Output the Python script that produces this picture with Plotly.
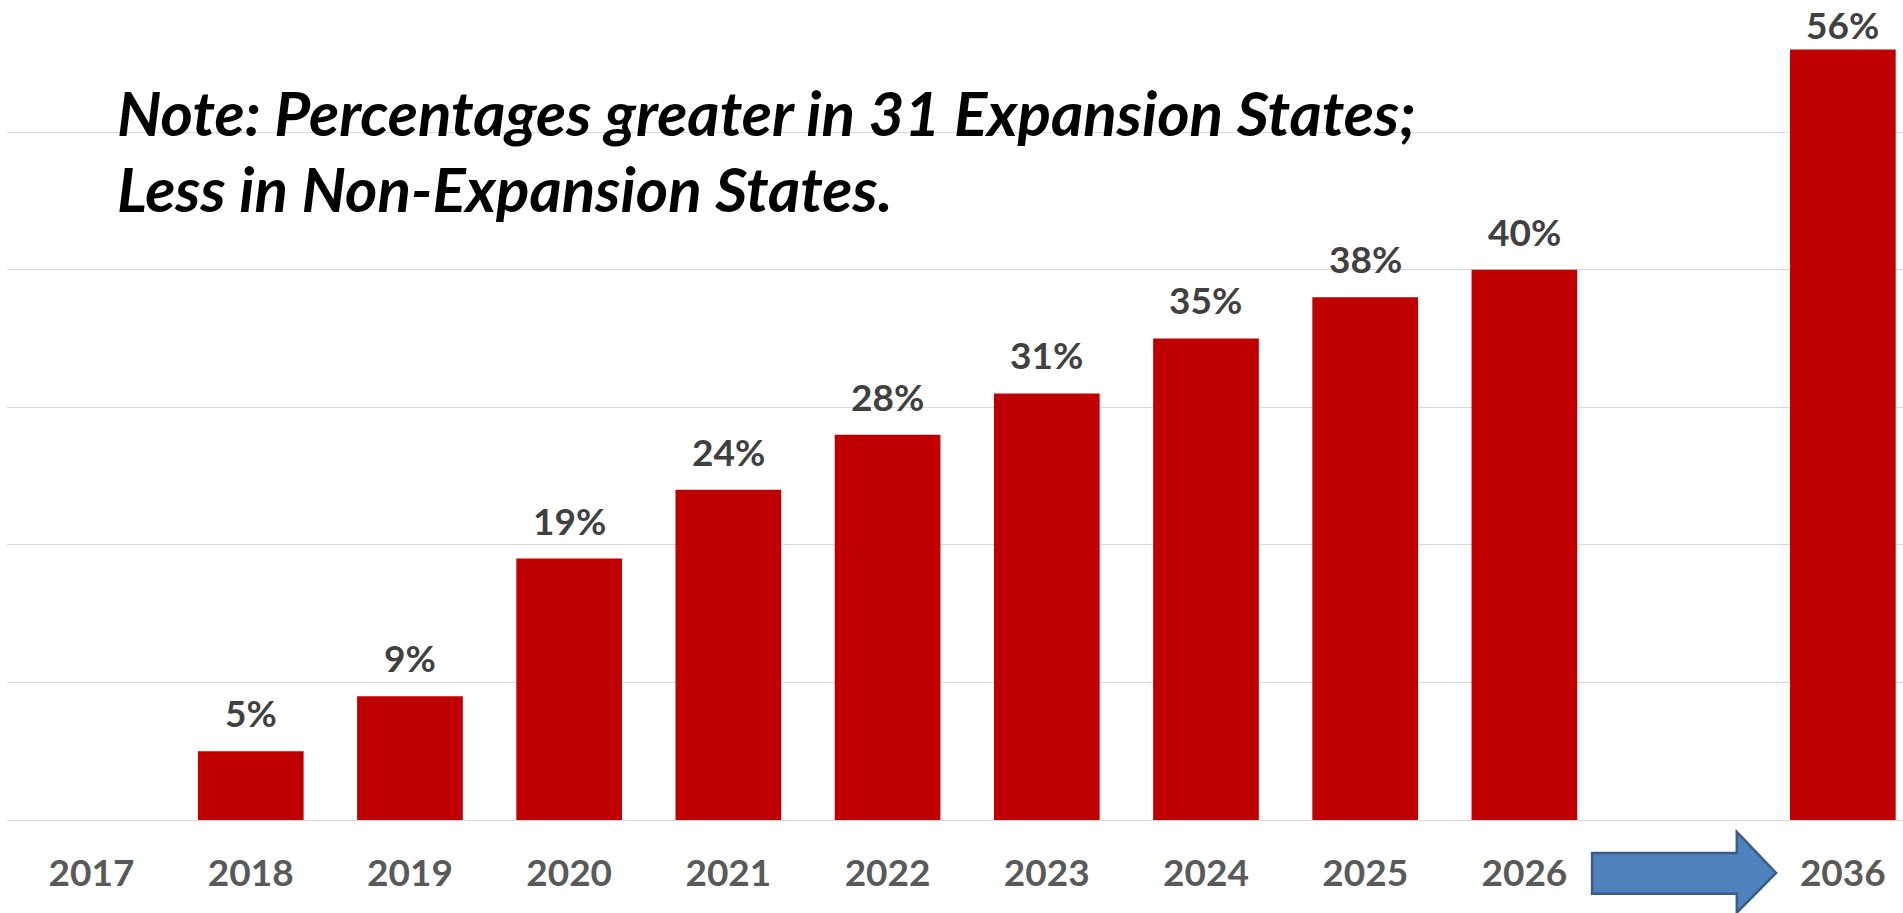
import plotly.graph_objects as go

# Share of patients, by year (the blank slot holds the arrow toward 2036)
years = ["2017", "2018", "2019", "2020", "2021", "2022", "2023",
         "2024", "2025", "2026", " ", "2036"]
shares = [None, 5, 9, 19, 24, 28, 31, 35, 38, 40, None, 56]
share_labels = ["", "5%", "9%", "19%", "24%", "28%", "31%",
                "35%", "38%", "40%", "", "56%"]

note_lines = ["Note: Percentages greater in 31 Expansion States;",
              "Less in Non-Expansion States."]

BAR_RED = "#C00000"
LABEL_GREY = "#404040"
TICK_GREY = "#595959"
GRID_GREY = "#D9D9D9"
FONT = "Lato"
Y_MAX = 59.6
PLOT_H = 819.7  # plot-area height in px

fig = go.Figure()
fig.add_trace(go.Bar(
    x=years, y=shares,
    marker=dict(color=BAR_RED, line=dict(width=0)),
    hoverinfo="skip",
))

annotations = []
# Value labels above each column (positioned by category index);
# a label that would run past the top edge is tucked down closer to its bar.
for idx, (val, lab) in enumerate(zip(shares, share_labels)):
    if val is None or not lab:
        continue
    room = (Y_MAX - val) / Y_MAX * PLOT_H - 49
    annotations.append(dict(
        x=idx, y=val, xref="x", yref="y", text=f"<b>{lab}</b>",
        showarrow=False, yanchor="bottom", yshift=max(0, min(14, room)),
        font=dict(family=FONT, size=37, color=LABEL_GREY),
    ))

for i, line in enumerate(note_lines):
    annotations.append(dict(
        x=108 / 1896, xref="paper", y=(PLOT_H - 136.7 - i * 76.3) / PLOT_H,
        yref="paper", xanchor="left", yanchor="bottom", yshift=-14,
        text=f"<b><i>{line}</i></b>", showarrow=False,
        font=dict(family=FONT, size=62, color="#000000"),
    ))

# Block arrow pointing from the 2026 column to the 2036 column
x0, xh, x1 = 9.425, 10.334, 10.581
ys_top, ys_bot = -0.0403, -0.0898
yh_top, yh_bot, y_mid = -0.0146, -0.113, -0.0645
arrow_path = (f"M {x0} {ys_top} L {xh} {ys_top} L {xh} {yh_top} L {x1} {y_mid} "
              f"L {xh} {yh_bot} L {xh} {ys_bot} L {x0} {ys_bot} Z")

fig.update_layout(
    width=1903, height=913, autosize=False,
    margin=dict(l=7, r=0, t=0, b=93.3),
    paper_bgcolor="white", plot_bgcolor="white",
    showlegend=False, bargap=0.336,
    annotations=annotations,
    shapes=[dict(type="path", xref="x", yref="paper", path=arrow_path,
                 fillcolor="#4F81BD", line=dict(color="#385D8A", width=2.5),
                 layer="above")],
    xaxis=dict(
        type="category", categoryorder="array", categoryarray=years,
        range=[-0.531, 11.378], showgrid=False, showline=False, ticks="",
        ticklabelstandoff=28,
        tickfont=dict(family=FONT, size=37, color=TICK_GREY),
        tickprefix="<b>", ticksuffix="</b>",
    ),
    yaxis=dict(
        range=[0, Y_MAX], dtick=10, showgrid=True, gridcolor=GRID_GREY,
        gridwidth=1.3, zeroline=True, zerolinecolor=GRID_GREY, zerolinewidth=1.3,
        showticklabels=False, ticks="", showline=False,
    ),
)

fig.write_html("out.html")
